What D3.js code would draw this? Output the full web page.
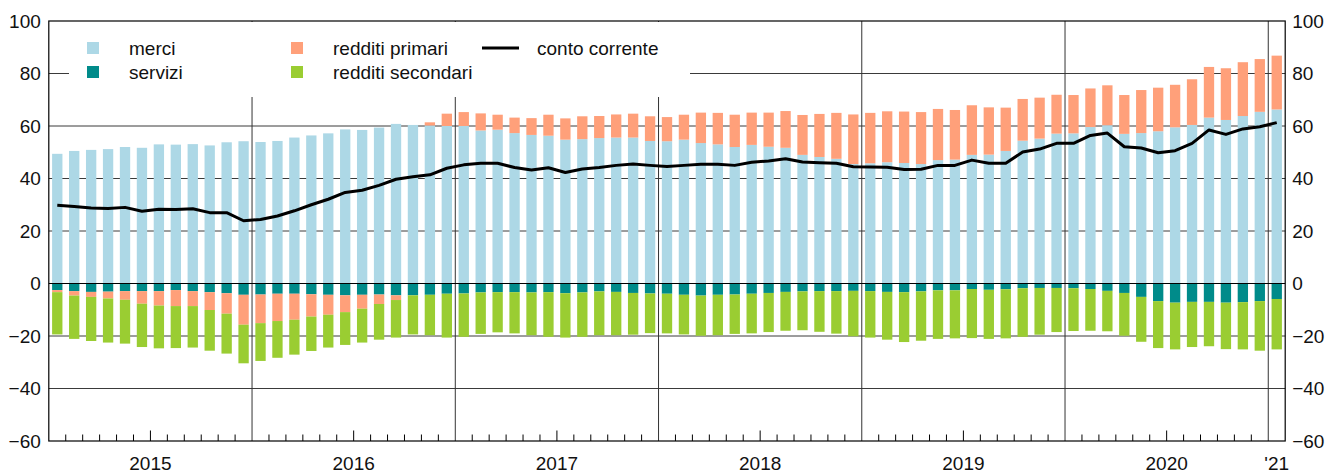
<!DOCTYPE html>
<html>
<head>
<meta charset="utf-8">
<script src="https://cdn.jsdelivr.net/npm/d3@7"></script>
<style>
	body { margin: 0; background: #fff; }
	text { font-family: Arial, "Liberation Sans", sans-serif; fill: #111; }
</style>
</head>
<body>
<svg id="chart" width="1339" height="473"></svg>
<script>
// monthly data, Jan 2015 - Jan 2021
var months = d3.timeMonths(new Date(2015, 0, 1), new Date(2021, 1, 1));
var yearLabels = ["2015", "2016", "2017", "2018", "2019", "2020", "'21"];
var yTicks = [-60, -40, -20, 0, 20, 40, 60, 80, 100];

var merci = [49.4,50.5,50.9,51.2,52.0,51.7,53.0,52.9,53.1,52.6,53.8,54.2,
	53.9,54.3,55.6,56.4,57.2,58.7,58.5,59.4,60.8,60.4,60.2,60.0,
	60.0,58.3,58.6,57.3,56.6,56.3,54.8,55.0,55.4,55.6,55.6,54.3,
	54.2,54.8,53.5,53.0,52.0,52.8,52.1,51.7,49.0,48.2,47.5,45.5,
	45.8,46.2,45.9,45.5,47.0,47.2,49.0,49.1,50.5,54.4,55.2,57.1,
	57.2,59.6,60.3,57.0,57.3,58.0,59.5,60.4,63.2,62.3,63.8,65.4,
	66.3];
var servizi = [-2.5,-2.9,-3.2,-3.1,-2.9,-2.9,-2.9,-2.5,-2.9,-3.3,-3.7,-4.3,
	-4.2,-3.9,-3.9,-4.1,-4.3,-4.5,-4.3,-4.2,-4.5,-4.5,-4.3,-3.9,
	-3.8,-3.4,-3.3,-3.3,-3.4,-3.3,-3.7,-3.4,-3.0,-3.2,-3.6,-3.8,
	-3.9,-4.3,-4.6,-4.3,-4.2,-3.9,-3.6,-3.2,-3.0,-2.9,-2.9,-2.8,
	-2.9,-3.2,-3.3,-3.0,-2.6,-2.6,-2.1,-2.4,-2.2,-1.8,-1.7,-1.7,
	-1.8,-2.1,-2.8,-3.6,-5.1,-6.7,-7.3,-7.0,-7.0,-7.3,-7.1,-6.7,
	-5.9];
var primari = [-0.8,-1.7,-1.9,-2.6,-3.3,-4.8,-5.5,-6.1,-5.7,-6.8,-7.8,-11.4,
	-10.9,-10.4,-9.9,-8.5,-7.6,-6.4,-5.3,-3.6,-1.8,0.0,1.2,4.7,
	5.3,6.5,5.7,5.9,6.4,8.0,8.1,8.7,8.4,8.8,9.1,9.4,
	9.2,9.5,11.6,12.0,12.3,12.3,13.0,14.0,15.2,16.4,17.5,18.9,
	19.2,19.4,19.6,19.8,19.5,18.9,18.9,18.0,16.5,15.9,15.6,14.8,
	14.6,14.7,15.2,14.8,16.4,16.6,16.2,17.4,19.3,19.7,20.5,20.1,
	20.5];
var secondari = [-16.1,-16.5,-16.8,-16.8,-16.7,-16.5,-16.3,-16.0,-15.8,-15.5,-15.2,-14.7,
	-14.4,-14.0,-13.3,-13.1,-12.5,-12.5,-12.9,-13.6,-14.3,-14.9,-15.4,-16.7,
	-16.5,-15.8,-15.3,-15.7,-16.3,-17.0,-16.9,-16.9,-16.7,-16.5,-15.9,-15.1,
	-15.1,-15.1,-15.3,-15.4,-15.0,-15.1,-14.9,-14.8,-14.8,-15.5,-16.2,-17.3,
	-17.7,-18.2,-19.0,-18.8,-18.5,-18.3,-18.7,-18.7,-18.7,-18.5,-17.8,-16.8,
	-16.3,-15.9,-15.4,-16.3,-17.1,-17.9,-17.8,-17.2,-16.9,-17.7,-18.0,-18.9,
	-19.2];
var conto = [29.8,29.3,28.8,28.6,29.0,27.5,28.3,28.2,28.5,27.0,27.0,23.9,
	24.4,25.7,27.7,30.0,32.1,34.7,35.5,37.4,39.7,40.7,41.4,43.9,
	45.2,45.8,45.8,44.2,43.2,44.1,42.3,43.6,44.2,45.0,45.5,45.0,
	44.6,45.0,45.4,45.4,45.0,46.2,46.7,47.5,46.3,46.0,45.8,44.5,
	44.4,44.3,43.4,43.5,45.0,45.0,47.0,45.8,45.8,50.1,51.2,53.4,
	53.4,56.4,57.3,52.1,51.6,49.8,50.6,53.4,58.5,56.8,58.9,59.7,
	61.3];

var keys = ["merci", "servizi", "primari", "secondari"];
var colors = { merci: "#add8e6", servizi: "#008b8a", primari: "#ffa07a", secondari: "#9acd32" };

var plotL = 48.8, plotR = 1285.2, plotT = 21, plotB = 441;

var svg = d3.select("#chart");

var rows = months.map(function(m, i) {
	return { i: i, merci: merci[i], servizi: servizi[i], primari: primari[i], secondari: secondari[i] };
});

var x = d3.scaleBand()
	.domain(d3.range(months.length))
	.range([plotL, plotR])
	.paddingInner(0.39)
	.paddingOuter(0.195);

// month boundaries
var xb = d3.scaleLinear().domain([0, months.length]).range([plotL, plotR]);

var y = d3.scaleLinear().domain([-60, 100]).range([plotB, plotT]);

//horizontal grid, behind the bars
svg.append("g").selectAll("line")
	.data(yTicks.filter(function(d) { return d != 0 && d != -60 && d != 100; }))
	.enter().append("line")
	.attr("x1", plotL).attr("x2", plotR)
	.attr("y1", function(d) { return y(d); })
	.attr("y2", function(d) { return y(d); })
	.attr("stroke", "#3a3a3a")
	.attr("stroke-width", 1);

// year separators
var yearStarts = d3.range(12, months.length, 12);
svg.append("g").selectAll("line")
	.data(yearStarts)
	.enter().append("line")
	.attr("x1", function(d) { return xb(d); })
	.attr("x2", function(d) { return xb(d); })
	.attr("y1", plotT).attr("y2", plotB)
	.attr("stroke", "#333")
	.attr("stroke-width", 1);

// white box behind legend
svg.append("rect")
	.attr("x", 69).attr("y", plotT + 1)
	.attr("width", 621).attr("height", 75)
	.attr("fill", "#fff");

var series = d3.stack().keys(keys).offset(d3.stackOffsetDiverging)(rows);

svg.append("g").selectAll("g")
	.data(series)
	.enter().append("g")
	.attr("fill", function(d) { return colors[d.key]; })
	.selectAll("rect")
	.data(function(d) { return d; })
	.enter().append("rect")
	.attr("x", function(d) { return x(d.data.i); })
	.attr("width", x.bandwidth())
	.attr("y", function(d) { return y(Math.max(d[0], d[1])); })
	.attr("height", function(d) { return Math.abs(y(d[0]) - y(d[1])); });

// conto corrente
var line = d3.line()
	.x(function(d, i) { return x(i) + x.bandwidth() / 2; })
	.y(function(d) { return y(d); });

svg.append("path")
	.datum(conto)
	.attr("d", line)
	.attr("fill", "none")
	.attr("stroke", "#000")
	.attr("stroke-width", 3)
	.attr("stroke-linejoin", "round");

// zero line on top
svg.append("line")
	.attr("x1", plotL).attr("x2", plotR)
	.attr("y1", y(0)).attr("y2", y(0))
	.attr("stroke", "#000").attr("stroke-width", 1);

// frame
svg.append("rect")
	.attr("x", plotL).attr("y", plotT)
	.attr("width", plotR - plotL).attr("height", plotB - plotT)
	.attr("fill", "none")
	.attr("stroke", "#000")
	.attr("stroke-width", 1.2);

// month ticks on the bottom, July a bit longer
svg.append("g").selectAll("line")
	.data(d3.range(1, months.length).filter(function(k) { return k % 12 != 0; }))
	.enter().append("line")
	.attr("x1", function(d) { return xb(d); })
	.attr("x2", function(d) { return xb(d); })
	.attr("y1", plotB)
	.attr("y2", function(d) { return d % 12 == 6 ? plotB - 10.5 : plotB - 6.5; })
	.attr("stroke", "#000")
	.attr("stroke-width", 1);

var fmt = function(d) { return d < 0 ? "\u2212" + Math.abs(d) : "" + d; };

var leftAxis = d3.axisLeft(y).tickValues(yTicks).tickSize(0).tickPadding(8).tickFormat(fmt);
var rightAxis = d3.axisRight(y).tickValues(yTicks).tickSize(0).tickPadding(7).tickFormat(fmt);

[svg.append("g").attr("transform", "translate(" + plotL + ",0)").call(leftAxis),
 svg.append("g").attr("transform", "translate(" + plotR + ",0)").call(rightAxis)].forEach(function(g) {
	g.select(".domain").remove();
	g.selectAll("text")
		.style("font-size", "19px")
		.style("font-family", "Arial, 'Liberation Sans', sans-serif")
		.attr("fill", "#111");
});

// year labels
svg.append("g").selectAll("text")
	.data(yearLabels)
	.enter().append("text")
	.attr("x", function(d, k) {
		var a = k * 12, b = Math.min(k * 12 + 12, months.length);
		return (xb(a) + xb(b)) / 2;
	})
	.attr("y", 470)
	.attr("text-anchor", "middle")
	.style("font-size", "19px")
	.text(function(d) { return d; });

// legend
var legendItems = [
	{ name: "merci", key: "merci", x: 87, y: 42 },
	{ name: "servizi", key: "servizi", x: 87, y: 66 },
	{ name: "redditi primari", key: "primari", x: 291, y: 42 },
	{ name: "redditi secondari", key: "secondari", x: 291, y: 66 }
];

var legend = svg.append("g").attr("class", "legend");

legend.selectAll("rect")
	.data(legendItems)
	.enter().append("rect")
	.attr("x", function(d) { return d.x; })
	.attr("y", function(d) { return d.y; })
	.attr("width", 12).attr("height", 12)
	.attr("fill", function(d) { return colors[d.key]; });

legend.selectAll("text")
	.data(legendItems)
	.enter().append("text")
	.attr("x", function(d) { return d.x + 42; })
	.attr("y", function(d) { return d.y + 13; })
	.style("font-size", "19px")
	.text(function(d) { return d.name; });

legend.append("line")
	.attr("x1", 482).attr("x2", 519)
	.attr("y1", 48).attr("y2", 48)
	.attr("stroke", "#000").attr("stroke-width", 3);

legend.append("text")
	.attr("x", 537).attr("y", 55)
	.style("font-size", "19px")
	.text("conto corrente");
</script>
</body>
</html>
